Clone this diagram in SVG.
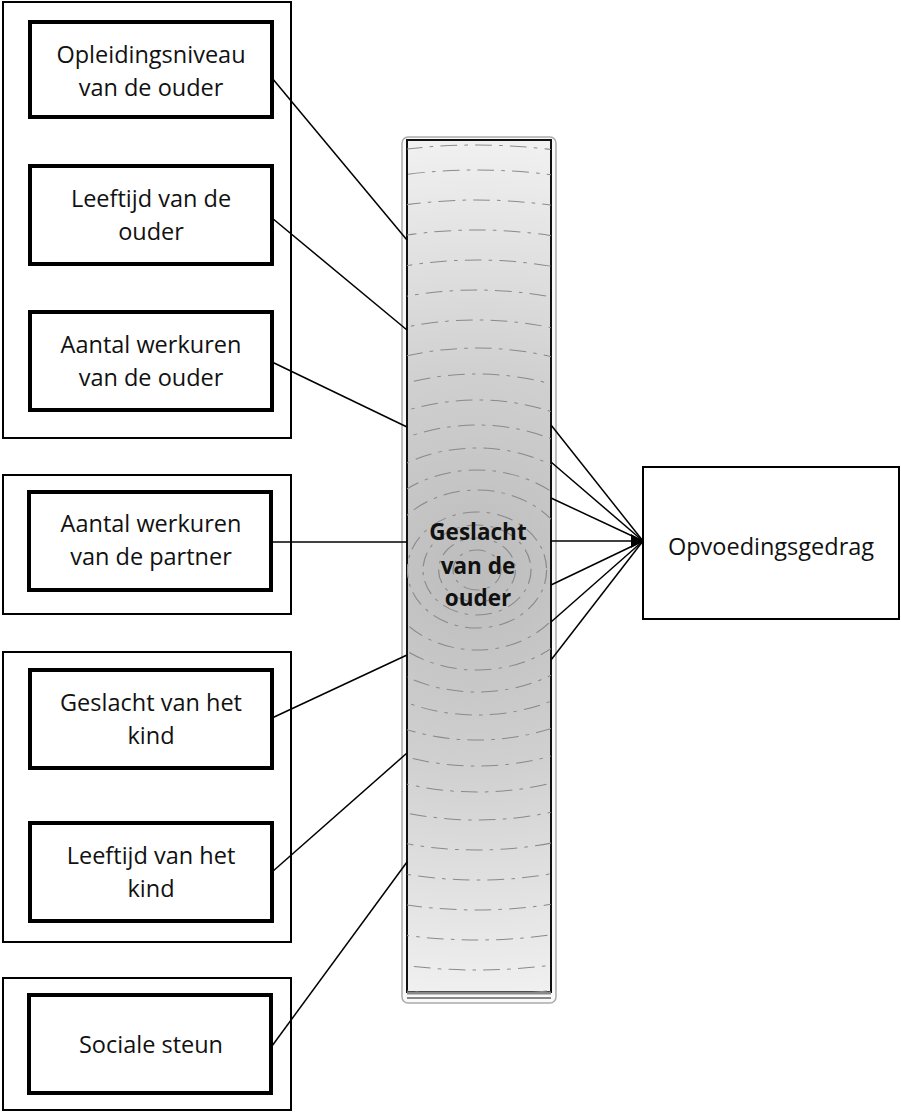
<svg xmlns="http://www.w3.org/2000/svg" width="901" height="1113" viewBox="0 0 901 1113">
<style>
.grp{fill:#fff;stroke:#000;stroke-width:2}
.box{fill:#fff;stroke:#000;stroke-width:4}
.tgt{fill:#fff;stroke:#000;stroke-width:2}
.lbl{font-family:"Open Sans","Liberation Sans",sans-serif;font-size:23.5px;fill:#111;text-anchor:middle}
.ctr{font-family:"Open Sans","Liberation Sans",sans-serif;font-size:22.5px;font-weight:bold;fill:#111;text-anchor:middle}
.con{stroke:#000;stroke-width:1.5;fill:none}
.ring{fill:none;stroke:#8a8a8a;stroke-width:1;stroke-dasharray:14 6 3 6}
</style>
<defs>
<radialGradient id="barfill" cx="477" cy="570" r="440" gradientUnits="userSpaceOnUse">
<stop offset="0" stop-color="#bcbcbc"/>
<stop offset="0.45" stop-color="#d0d0d0"/>
<stop offset="1" stop-color="#f2f2f2"/>
</radialGradient>
<clipPath id="barclip"><rect x="407" y="140" width="144" height="852"/></clipPath>
</defs>
<g id="group-ouder"><rect class="grp" x="3" y="2" width="288" height="436"/></g>
<g id="group-partner"><rect class="grp" x="3" y="475" width="288" height="139"/></g>
<g id="group-kind"><rect class="grp" x="3" y="652" width="288" height="290"/></g>
<g id="group-steun"><rect class="grp" x="3" y="978" width="288" height="132"/></g>

<g id="central-bar">
<rect x="402" y="137" width="154" height="866" rx="6" fill="#fafafa" stroke="#aaa" stroke-width="1.5"/>
<rect x="407" y="140" width="144" height="852" fill="url(#barfill)" stroke="#111" stroke-width="2"/>
<g clip-path="url(#barclip)">
<g transform="translate(477 570) scale(1.2 1) translate(-477 -570)">
<circle class="ring" cx="477" cy="570" r="20"/>
<circle class="ring" cx="477" cy="570" r="32"/>
<circle class="ring" cx="477" cy="570" r="45"/>
<circle class="ring" cx="477" cy="570" r="58"/>
<circle class="ring" cx="477" cy="570" r="80"/>
<circle class="ring" cx="477" cy="570" r="100"/>
<circle class="ring" cx="477" cy="570" r="122"/>
<circle class="ring" cx="477" cy="570" r="145"/>
<circle class="ring" cx="477" cy="570" r="170"/>
<circle class="ring" cx="477" cy="570" r="196"/>
<circle class="ring" cx="477" cy="570" r="222"/>
<circle class="ring" cx="477" cy="570" r="250"/>
<circle class="ring" cx="477" cy="570" r="280"/>
<circle class="ring" cx="477" cy="570" r="310"/>
<circle class="ring" cx="477" cy="570" r="340"/>
<circle class="ring" cx="477" cy="570" r="370"/>
<circle class="ring" cx="477" cy="570" r="400"/>
<circle class="ring" cx="477" cy="570" r="425"/>
</g>
</g>
<line x1="407" y1="993" x2="551" y2="993" stroke="#888" stroke-width="3"/>
<line x1="407" y1="998" x2="551" y2="998" stroke="#888" stroke-width="2"/>
<text class="ctr" x="478" y="540">Geslacht</text>
<text class="ctr" x="478" y="574">van de</text>
<text class="ctr" x="478" y="606">ouder</text>
</g>

<g id="connectors">
<line class="con" x1="272" y1="78" x2="407" y2="240"/>
<line class="con" x1="272" y1="218" x2="407" y2="330"/>
<line class="con" x1="272" y1="362" x2="407" y2="427"/>
<line class="con" x1="272" y1="542" x2="407" y2="542"/>
<line class="con" x1="272" y1="718" x2="407" y2="655"/>
<line class="con" x1="272" y1="872" x2="407" y2="753"/>
<line class="con" x1="272" y1="1046" x2="407" y2="862"/>
<line class="con" x1="551" y1="425" x2="643" y2="541"/>
<line class="con" x1="551" y1="462" x2="643" y2="541"/>
<line class="con" x1="551" y1="498" x2="643" y2="541"/>
<line class="con" x1="551" y1="541" x2="643" y2="541"/>
<line class="con" x1="551" y1="585" x2="643" y2="541"/>
<line class="con" x1="551" y1="622" x2="643" y2="541"/>
<line class="con" x1="551" y1="660" x2="643" y2="541"/>
<path d="M631 534 L643 541 L631 548 Z" fill="#000"/>
</g>

<g id="node-opleiding"><rect class="box" x="30" y="22" width="242" height="95"/>
<text class="lbl" x="151" y="63">Opleidingsniveau</text><text class="lbl" x="151" y="96">van de ouder</text></g>
<g id="node-leeftijd-ouder"><rect class="box" x="30" y="166" width="242" height="98"/>
<text class="lbl" x="151" y="207">Leeftijd van de</text><text class="lbl" x="151" y="240">ouder</text></g>
<g id="node-werkuren-ouder"><rect class="box" x="30" y="312" width="242" height="98"/>
<text class="lbl" x="151" y="353">Aantal werkuren</text><text class="lbl" x="151" y="386">van de ouder</text></g>
<g id="node-werkuren-partner"><rect class="box" x="29" y="492" width="242" height="98"/>
<text class="lbl" x="151" y="532">Aantal werkuren</text><text class="lbl" x="151" y="565">van de partner</text></g>
<g id="node-geslacht-kind"><rect class="box" x="30" y="670" width="242" height="98"/>
<text class="lbl" x="151" y="711">Geslacht van het</text><text class="lbl" x="151" y="744">kind</text></g>
<g id="node-leeftijd-kind"><rect class="box" x="30" y="823" width="242" height="98"/>
<text class="lbl" x="151" y="864">Leeftijd van het</text><text class="lbl" x="151" y="897">kind</text></g>
<g id="node-steun"><rect class="box" x="29" y="995" width="242" height="98"/>
<text class="lbl" x="151" y="1053">Sociale steun</text></g>
<g id="node-opvoeding"><rect class="tgt" x="643" y="467" width="256" height="152"/>
<text class="lbl" x="771" y="555">Opvoedingsgedrag</text></g>
</svg>
